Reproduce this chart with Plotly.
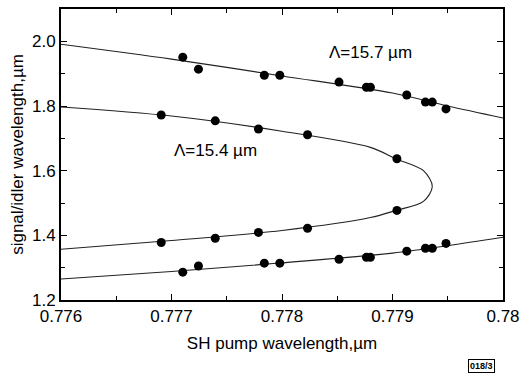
import plotly.graph_objects as go

# ---- data ----
# Lambda = 15.7 um: signal branch (upper) and idler branch (lower)
sig157_x = [0.777102, 0.777244, 0.777840, 0.777980, 0.778516, 0.778764, 0.778800,
            0.779129, 0.779298, 0.779360, 0.779484]
sig157_y = [1.951, 1.914, 1.895, 1.895, 1.874, 1.858, 1.858, 1.834, 1.812, 1.812, 1.791]
idl157_x = sig157_x
idl157_y = [1.286, 1.305, 1.314, 1.314, 1.326, 1.332, 1.332, 1.351, 1.360, 1.360, 1.375]

# Lambda = 15.4 um: signal (upper) and idler (lower) branches
sig154_x = [0.776907, 0.777396, 0.777787, 0.778231, 0.779040]
sig154_y = [1.772, 1.754, 1.729, 1.711, 1.637]
idl154_x = sig154_x
idl154_y = [1.378, 1.391, 1.409, 1.422, 1.477]

# theoretical tuning curves
fit157s_x = [0.776, 0.777, 0.778, 0.779, 0.7795, 0.780]
fit157s_y = [1.991, 1.945, 1.893, 1.840, 1.800, 1.763]
fit157i_x = [0.776, 0.777, 0.778, 0.779, 0.7795, 0.780]
fit157i_y = [1.265, 1.288, 1.315, 1.345, 1.368, 1.394]
fit154_x = [0.776, 0.777, 0.778, 0.7788, 0.77903, 0.77928, 0.77936,
            0.77928, 0.77903, 0.7788, 0.778, 0.777, 0.776]
fit154_y = [1.797, 1.769, 1.722, 1.672, 1.637, 1.600, 1.551,
            1.505, 1.477, 1.455, 1.415, 1.384, 1.357]

x_ticks = [0.776, 0.777, 0.778, 0.779, 0.780]
x_ticklabels = ["0.776", "0.777", "0.778", "0.779", "0.78"]
y_ticks = [1.2, 1.4, 1.6, 1.8, 2.0]
y_ticklabels = ["1.2", "1.4", "1.6", "1.8", "2.0"]

FONT = "Liberation Sans, Arial, sans-serif"

fig = go.Figure()
for fx, fy in [(fit157s_x, fit157s_y), (fit157i_x, fit157i_y), (fit154_x, fit154_y)]:
    fig.add_trace(go.Scatter(x=fx, y=fy, mode="lines",
                             line=dict(color="#222", width=1.1, shape="spline", smoothing=0.9),
                             hoverinfo="skip", showlegend=False))
for px, py in [(sig157_x, sig157_y), (idl157_x, idl157_y), (sig154_x, sig154_y), (idl154_x, idl154_y)]:
    fig.add_trace(go.Scatter(x=px, y=py, mode="markers",
                             marker=dict(color="black", size=9),
                             showlegend=False))

axis_common = dict(showgrid=False, zeroline=False, showline=True, linecolor="black",
                   linewidth=2, mirror="allticks", ticks="inside", ticklen=6,
                   tickwidth=1, tickcolor="black", ticklabeloverflow="allow",
                   tickfont=dict(family=FONT, size=17, color="black"))

fig.update_xaxes(range=[0.776, 0.780], tickvals=x_ticks, ticktext=x_ticklabels,
                 minor=dict(dtick=0.0005, ticks="inside", ticklen=4, tickcolor="black"),
                 title=dict(text="SH pump wavelength,\u00b5m", font=dict(family=FONT, size=17, color="black"),
                            standoff=12),
                 **axis_common)
fig.update_yaxes(range=[1.2, 2.1], tickvals=y_ticks, ticktext=y_ticklabels,
                 minor=dict(dtick=0.1, ticks="inside", ticklen=4, tickcolor="black"),
                 title=dict(text="signal/idler wavelength,\u00b5m", font=dict(family=FONT, size=17, color="black"),
                            standoff=4),
                 **axis_common)

fig.add_annotation(x=0.7788, y=1.967, xref="x", yref="y", text="\u039b=15.7 \u00b5m",
                   showarrow=False, xanchor="center", yanchor="middle",
                   font=dict(family=FONT, size=17, color="black"))
fig.add_annotation(x=0.7774, y=1.663, xref="x", yref="y", text="\u039b=15.4 \u00b5m",
                   showarrow=False, xanchor="center", yanchor="middle",
                   font=dict(family=FONT, size=17, color="black"))
fig.add_annotation(x=(489 - 61) / 450, y=(300 - 366) / 293, xref="paper", yref="paper",
                   text="<b>018/3</b>", showarrow=False, xanchor="center", yanchor="middle",
                   font=dict(family=FONT, size=9, color="black"),
                   bordercolor="black", borderwidth=1, borderpad=1)

fig.update_layout(width=527, height=375, margin=dict(l=61, r=16, t=7, b=75),
                  paper_bgcolor="white", plot_bgcolor="white",
                  font=dict(family=FONT, color="black"))

fig.write_html("out.html")
